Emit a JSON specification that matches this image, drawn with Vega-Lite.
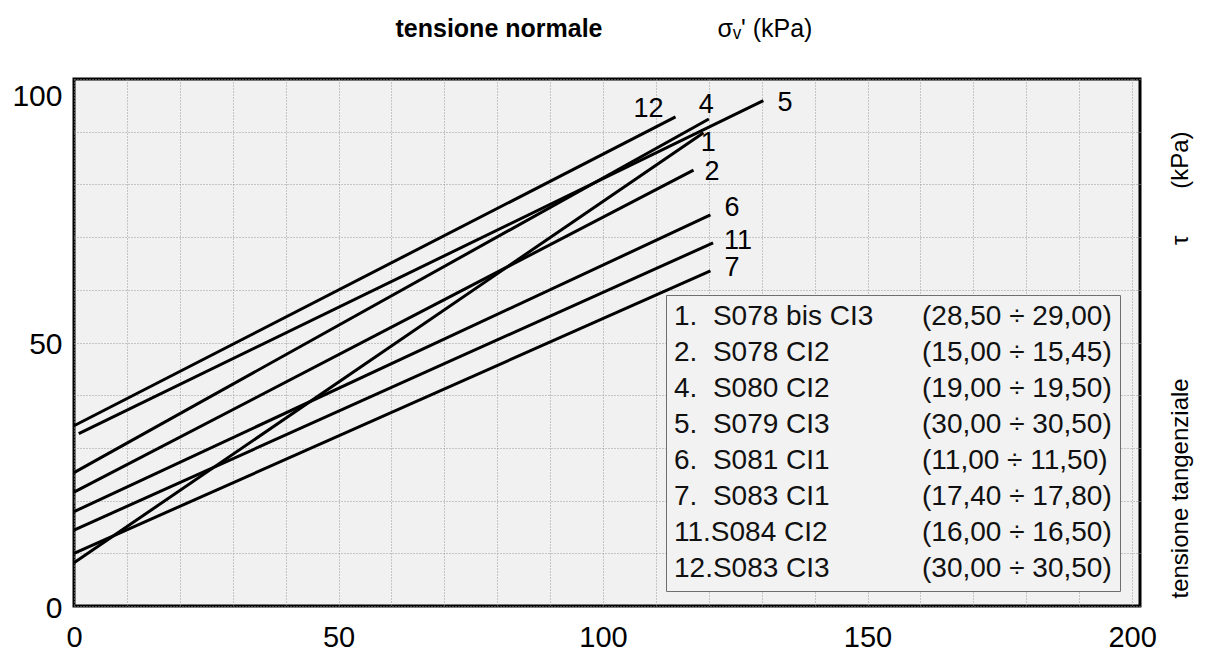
{
  "$schema": "https://vega.github.io/schema/vega-lite/v6.json",
  "width": 1066,
  "height": 527,
  "autosize": {"type": "none"},
  "padding": {"left": 74, "top": 79, "right": 70, "bottom": 45},
  "background": "white",
  "view": {"fill": "#f1f1f1", "stroke": "black", "strokeWidth": 3},
  "config": {
    "font": "Liberation Sans",
    "axis": {"labelFont": "Liberation Sans", "titleFont": "Liberation Sans", "labelColor": "#000", "titleColor": "#000"},
    "legend": {"labelFont": "Liberation Sans"}
  },
  "datasets": {
    "envelopes": [
      {"sample": "1.\u00a0\u00a0S078 bis CI3", "x": 0, "y": 8.2},
      {"sample": "1.\u00a0\u00a0S078 bis CI3", "x": 119.0, "y": 89.8},
      {"sample": "2.\u00a0\u00a0S078 CI2", "x": 0, "y": 21.6},
      {"sample": "2.\u00a0\u00a0S078 CI2", "x": 117.1, "y": 82.7},
      {"sample": "4.\u00a0\u00a0S080 CI2", "x": 0, "y": 25.3},
      {"sample": "4.\u00a0\u00a0S080 CI2", "x": 120.0, "y": 92.4},
      {"sample": "5.\u00a0\u00a0S079 CI3", "x": 0.9, "y": 32.7},
      {"sample": "5.\u00a0\u00a0S079 CI3", "x": 130.3, "y": 95.9},
      {"sample": "6.\u00a0\u00a0S081 CI1", "x": 0, "y": 17.9},
      {"sample": "6.\u00a0\u00a0S081 CI1", "x": 120.3, "y": 74.2},
      {"sample": "7.\u00a0\u00a0S083 CI1", "x": 0, "y": 10.0},
      {"sample": "7.\u00a0\u00a0S083 CI1", "x": 120.3, "y": 63.6},
      {"sample": "11.S084 CI2", "x": 0, "y": 14.4},
      {"sample": "11.S084 CI2", "x": 120.8, "y": 68.9},
      {"sample": "12.S083 CI3", "x": 0, "y": 34.2},
      {"sample": "12.S083 CI3", "x": 113.7, "y": 92.8}
    ],
    "tags": [
      {"id": "12", "x": 108.6, "y": 94.3},
      {"id": "4", "x": 119.5, "y": 95.1},
      {"id": "5", "x": 134.4, "y": 95.5},
      {"id": "1", "x": 119.9, "y": 87.9},
      {"id": "2", "x": 120.6, "y": 82.3},
      {"id": "6", "x": 124.4, "y": 75.5},
      {"id": "11", "x": 125.5, "y": 69.3},
      {"id": "7", "x": 124.4, "y": 64.1}
    ]
  },
  "layer": [
    {
      "data": {"name": "envelopes"},
      "mark": {"type": "line", "strokeWidth": 3, "strokeCap": "butt"},
      "encoding": {
        "x": {
          "field": "x", "type": "quantitative",
          "scale": {"domain": [0, 201.5], "nice": false, "zero": false},
          "axis": {
            "orient": "bottom",
            "values": [0, 10, 20, 30, 40, 50, 60, 70, 80, 90, 100, 110, 120, 130, 140, 150, 160, 170, 180, 190, 200],
            "labelExpr": "datum.value % 50 === 0 ? datum.label : ''",
            "labelFontSize": 29, "labelPadding": 40, "labelBaseline": "alphabetic",
            "labelOverlap": false, "labelFlush": false,
            "ticks": false, "tickSize": 0, "domain": false,
            "grid": true, "gridColor": "#999999", "gridDash": [1, 2], "gridWidth": 1,
            "title": "tensione normale",
            "titleFontSize": 25, "titleFontWeight": "bold",
            "titleAngle": 0, "titleAlign": "left", "titleBaseline": "alphabetic",
            "titleX": 321, "titleY": -570
          }
        },
        "y": {
          "field": "y", "type": "quantitative",
          "scale": {"domain": [0, 100], "nice": false},
          "axis": {
            "orient": "left",
            "values": [0, 10, 20, 30, 40, 50, 60, 70, 80, 90, 100],
            "labelExpr": "datum.value % 50 === 0 ? datum.label : ''",
            "labelFontSize": 30, "labelPadding": 12,
            "labelOffset": {"condition": {"test": "datum.value === 100", "value": 17}, "value": 2},
            "labelOverlap": false, "labelFlush": false,
            "ticks": false, "tickSize": 0, "domain": false,
            "grid": true, "gridColor": "#999999", "gridDash": [1, 2], "gridWidth": 1,
            "title": "tensione tangenziale\u00a0\u00a0\u00a0\u00a0\u00a0\u00a0\u00a0\u00a0\u00a0\u00a0\u00a0\u00a0\u00a0\u00a0\u00a0\u00a0\u00a0\u00a0\u00a0\u00a0τ\u00a0\u00a0\u00a0\u00a0\u00a0\u00a0\u00a0(kPa)",
            "titleFontSize": 24, "titleFontWeight": "normal",
            "titleAngle": -90, "titleAlign": "left", "titleBaseline": "middle",
            "titleX": 1106, "titleY": 519
          }
        },
        "color": {
          "field": "sample", "type": "nominal",
          "scale": {
            "domain": [
              "1.\u00a0\u00a0S078 bis CI3",
              "2.\u00a0\u00a0S078 CI2",
              "4.\u00a0\u00a0S080 CI2",
              "5.\u00a0\u00a0S079 CI3",
              "6.\u00a0\u00a0S081 CI1",
              "7.\u00a0\u00a0S083 CI1",
              "11.S084 CI2",
              "12.S083 CI3",
              "(28,50 ÷ 29,00)",
              "(15,00 ÷ 15,45)",
              "(19,00 ÷ 19,50)",
              "(30,00 ÷ 30,50)",
              "(11,00 ÷ 11,50)",
              "(17,40 ÷ 17,80)",
              "(16,00 ÷ 16,50)",
              "(30,00 ÷ 30,50)\u00a0"
            ],
            "range": ["#000", "#000", "#000", "#000", "#000", "#000", "#000", "#000", "#000", "#000", "#000", "#000", "#000", "#000", "#000", "#000"]
          },
          "legend": {
            "title": null,
            "orient": "none", "legendX": 592, "legendY": 216,
            "direction": "vertical", "columns": 2, "columnPadding": 48, "rowPadding": 8,
            "padding": 8, "fillColor": "#f2f2f2", "strokeColor": "#6e6e6e",
            "symbolSize": 0, "symbolStrokeWidth": 0, "symbolOpacity": 0, "symbolOffset": 0,
            "labelFontSize": 28, "labelColor": "#111", "labelLimit": 500, "labelOffset": -28
          }
        }
      }
    },
    {
      "data": {"name": "tags"},
      "mark": {"type": "text", "font": "Liberation Sans", "fontSize": 27, "color": "#000", "align": "center", "baseline": "middle"},
      "encoding": {
        "x": {
          "field": "x", "type": "quantitative",
          "scale": {"domain": [0, 201.5], "nice": false, "zero": false},
          "axis": {
            "orient": "top", "labels": false, "ticks": false, "domain": false, "grid": false,
            "title": "σᵥ' (kPa)",
            "titleFontSize": 25, "titleFontWeight": "normal",
            "titleAngle": 0, "titleAlign": "left", "titleBaseline": "alphabetic",
            "titleX": 643, "titleY": -43
          }
        },
        "y": {"field": "y", "type": "quantitative", "scale": {"domain": [0, 100], "nice": false}},
        "text": {"field": "id"}
      }
    }
  ],
  "resolve": {"axis": {"x": "independent"}}
}
